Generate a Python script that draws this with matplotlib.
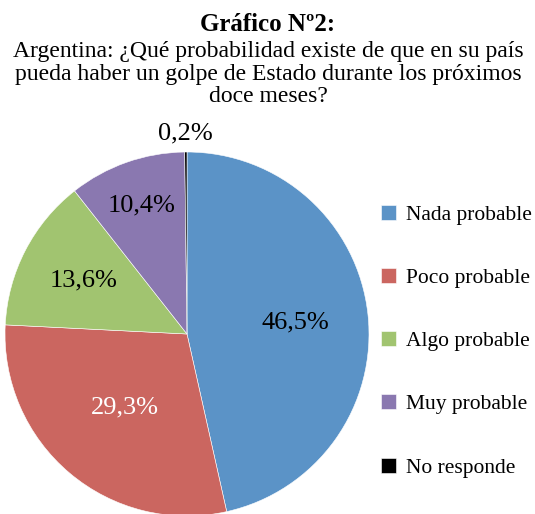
import matplotlib
matplotlib.use("Agg")
import matplotlib.pyplot as plt
import numpy as np

categorias = ["Nada probable", "Poco probable", "Algo probable", "Muy probable", "No responde"]
valores = [46.5, 29.3, 13.6, 10.4, 0.2]
etiquetas = ["46,5%", "29,3%", "13,6%", "10,4%", "0,2%"]
colores = ["#5b93c7", "#cb6660", "#a1c470", "#8a78b0", "#000000"]
# distancia de cada etiqueta al centro (en radios) y color del texto
dist_etiq = [0.60, 0.53, 0.64, 0.75, 1.10]
color_etiq = ["black", "white", "black", "black", "black"]

plt.rcParams["font.family"] = ["Liberation Serif", "DejaVu Serif"]

fig = plt.figure(figsize=(5.35, 5.14), dpi=100)
W, H = 535, 514

# pie centre ~ (187, 334) px, radius ~182 px
cx, cy, r = 187, 334, 182
ax = fig.add_axes([(cx - r) / W, (H - cy - r) / H, 2 * r / W, 2 * r / H])
wedges, _ = ax.pie(valores, colors=colores, startangle=90, counterclock=False,
                   wedgeprops=dict(edgecolor="white", linewidth=0.4))
ax.set_xlim(-1, 1)
ax.set_ylim(-1, 1)
ax.set_aspect("equal")
ax.axis("off")

for w, txt, d, c in zip(wedges, etiquetas, dist_etiq, color_etiq):
    ang = np.deg2rad((w.theta1 + w.theta2) / 2)
    ax.text(d * np.cos(ang), d * np.sin(ang), txt, ha="center", va="center",
            fontsize=19, color=c)

fig.text(268 / W, 1 - 24 / H, "Gráfico Nº2:", ha="center", va="center",
         fontsize=18, fontweight="bold")
fig.text(268 / W, 1 - 41 / H,
         "Argentina: ¿Qué probabilidad existe de que en su país\n"
         "pueda haber un golpe de Estado durante los próximos\n"
         "doce meses?", ha="center", va="top", fontsize=17, linespacing=1.1)

fig.legend(wedges, categorias, loc="upper left",
           bbox_to_anchor=(381 / W, 1 - 205 / H), frameon=False,
           fontsize=15.5, borderpad=0, borderaxespad=0,
           handlelength=0.7, handleheight=0.7, handletextpad=0.45,
           labelspacing=2.0)

fig.savefig("out.png", dpi=100)
